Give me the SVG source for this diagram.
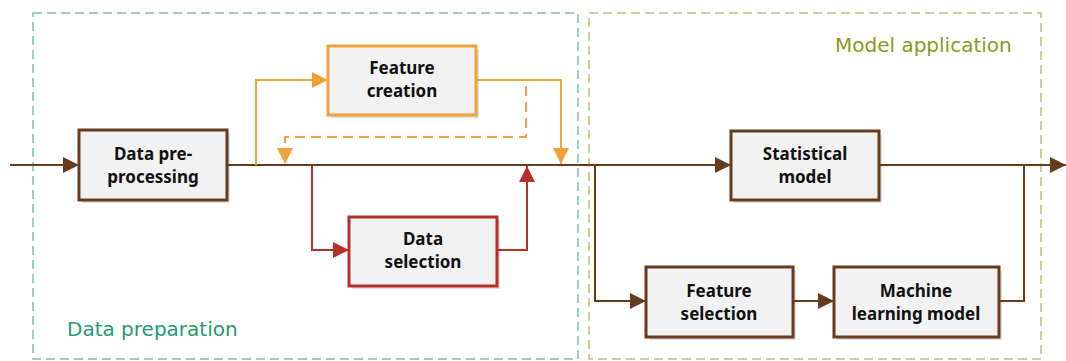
<svg xmlns="http://www.w3.org/2000/svg" width="1066" height="361" viewBox="0 0 1066 361">
<style>
.node rect.b{fill:#f2f2f2;stroke-width:3}
.node rect.s{fill:#000;opacity:0.12}
.lbl{font-family:"Noto Sans","Open Sans",sans-serif;font-weight:bold;font-size:17px;fill:#111;text-anchor:middle}
.brown{stroke:#673c1e}
.orange{stroke:#eea23c}
.red{stroke:#b5302a}
.conn path{fill:none;stroke-width:2}
.grp{fill:none;stroke-width:1.5;stroke-dasharray:9 5}
.glbl{font-family:"DejaVu Sans",sans-serif;font-size:20px}
</style>
<defs>
<marker id="ab" viewBox="0 0 16 16" refX="16" refY="8" markerWidth="16" markerHeight="16" markerUnits="userSpaceOnUse" orient="auto"><path d="M0,0 L16,8 L0,16 z" fill="#673c1e"/></marker>
<marker id="ao" viewBox="0 0 16 16" refX="16" refY="8" markerWidth="16" markerHeight="16" markerUnits="userSpaceOnUse" orient="auto"><path d="M0,0 L16,8 L0,16 z" fill="#eea23c"/></marker>
<marker id="ar" viewBox="0 0 16 16" refX="16" refY="8" markerWidth="16" markerHeight="16" markerUnits="userSpaceOnUse" orient="auto"><path d="M0,0 L16,8 L0,16 z" fill="#b5302a"/></marker>
</defs>
<rect width="1066" height="361" fill="#fff"/>
<g id="group-data-preparation">
<rect class="grp" x="33" y="13" width="545" height="346" stroke="#7fbfa8"/>
<text class="glbl" x="67" y="336" fill="#1f9a72">Data preparation</text>
</g>
<g id="group-model-application">
<rect class="grp" x="589" y="13" width="452" height="346" stroke="#b8c27a"/>
<text class="glbl" x="835" y="52" fill="#8a9a1a">Model application</text>
</g>
<g class="conn" id="connectors">
<path class="brown" d="M10,165 L79,165" marker-end="url(#ab)"/>
<path class="brown" d="M227,165 L731,165" marker-end="url(#ab)"/>
<path class="brown" d="M879,165 L1066,165" marker-end="url(#ab)"/>
<path class="brown" d="M595,165 L595,301 L646,301" marker-end="url(#ab)"/>
<path class="brown" d="M793,301 L834,301" marker-end="url(#ab)"/>
<path class="brown" d="M999,301 L1024,301 L1024,165"/>
<path class="orange" d="M256,165 L256,80 L328,80" marker-end="url(#ao)"/>
<path class="orange" d="M476,80 L561,80 L561,164" marker-end="url(#ao)"/>
<path class="orange" d="M526,86 L526,137 L285,137 L285,164" stroke-dasharray="10 6" marker-end="url(#ao)"/>
<path class="red" d="M312,166 L312,250 L349,250" marker-end="url(#ar)"/>
<path class="red" d="M497,250 L527,250 L527,166" marker-end="url(#ar)"/>
</g>
<g class="node" id="node-data-preprocessing">
<rect class="s" x="82" y="133" width="148" height="70"/>
<rect class="b brown" x="79" y="130" width="148" height="70"/>
<text class="lbl" x="153" y="160">Data pre-</text>
<text class="lbl" x="153" y="183">processing</text>
</g>
<g class="node" id="node-feature-creation">
<rect class="s" x="331" y="49" width="148" height="69"/>
<rect class="b orange" x="328" y="46" width="148" height="69"/>
<text class="lbl" x="402" y="74">Feature</text>
<text class="lbl" x="402" y="97">creation</text>
</g>
<g class="node" id="node-data-selection">
<rect class="s" x="352" y="220" width="148" height="69"/>
<rect class="b red" x="349" y="217" width="148" height="69"/>
<text class="lbl" x="423" y="245">Data</text>
<text class="lbl" x="423" y="268">selection</text>
</g>
<g class="node" id="node-statistical-model">
<rect class="s" x="734" y="134" width="148" height="69"/>
<rect class="b brown" x="731" y="131" width="148" height="69"/>
<text class="lbl" x="805" y="160">Statistical</text>
<text class="lbl" x="805" y="183">model</text>
</g>
<g class="node" id="node-feature-selection">
<rect class="s" x="649" y="270" width="147" height="70"/>
<rect class="b brown" x="646" y="267" width="147" height="70"/>
<text class="lbl" x="719" y="297">Feature</text>
<text class="lbl" x="719" y="320">selection</text>
</g>
<g class="node" id="node-machine-learning-model">
<rect class="s" x="837" y="270" width="165" height="70"/>
<rect class="b brown" x="834" y="267" width="165" height="70"/>
<text class="lbl" x="916" y="297">Machine</text>
<text class="lbl" x="916" y="320">learning model</text>
</g>
</svg>
